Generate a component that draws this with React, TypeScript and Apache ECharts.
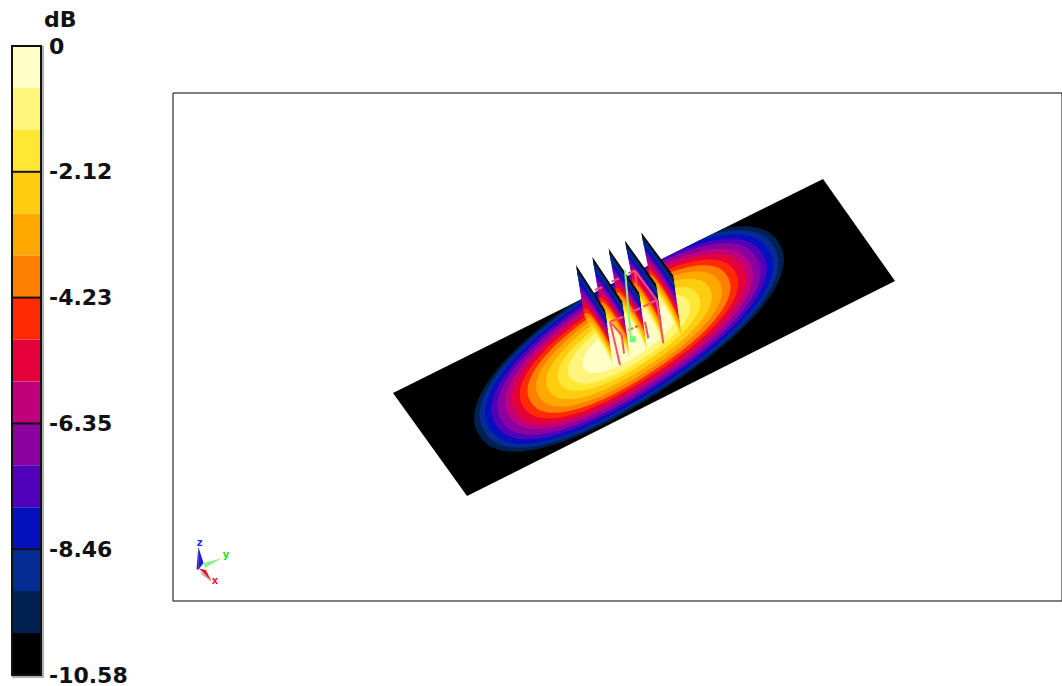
import React, { useEffect, useRef } from "react";
import * as echarts from "echarts";

const W = 1062;
const H = 686;

// Colour scale (top to bottom) and the values at the band edges
const bandColors = ["#FFFFC8", "#FFF57D", "#FFE833", "#FFCC10", "#FFA800", "#FF7F00", "#FF2A00", "#E6003A", "#C0007A", "#8A00A0", "#5000B8", "#0410BE", "#042C94", "#00204F", "#000000"];
const bandEdges = [0, -0.705, -1.41, -2.116, -2.821, -3.527, -4.232, -4.937, -5.643, -6.348, -7.053, -7.759, -8.464, -9.169, -9.875, -10.58];
const scaleTicks = [-2.116, -4.232, -6.348, -8.464];
const scaleMin = -10.58;
const scaleStep = 2.116;

// Scene points, in page pixels
const plateCorners = [[393, 393], [823, 179], [895, 281], [467, 496]];
const beamCentre = [629, 339];
const beamAxes = [178, 61];
const beamAxisDirs = [[0.84, -0.543], [0.543, 0.84]];
const beamRoundness = 2.25;
const finRise = 0.95;
const finBaseDim = 0.8;
// relative radius of each contour, from the outermost (dark) to the innermost (pale)
const ringRadii = [1, 0.965, 0.93, 0.89, 0.85, 0.8, 0.755, 0.705, 0.655, 0.6, 0.535, 0.46, 0.395, 0.3];
const ringBands = [13, 12, 11, 10, 9, 8, 7, 6, 5, 4, 3, 2, 1, 0];

const finApex = [576, 265];
const finUpper = [605, 310];
const finFoot = [613, 367];
const finHeel = [584, 315];
const finApexStep = [16.3, -8.2];
const finUpperStep = [17, -8.7];
const finFootStep = [17.2, -7.3];
const finHeelStep = [16.8, -8];
const finOrder = [4, 3, 2, 1, 0];

const wireSegments = [
  [[595, 290], [602.3, 287.3]],
  [[611.7, 281.7], [619, 278.3]],
  [[628.3, 273.3], [635, 270.7]],
  [[635, 270.7], [656.7, 300]],
  [[635, 270.7], [636.7, 285]],
  [[610, 321.7], [623.3, 316.7]],
  [[631.7, 311.7], [640, 308.3]],
  [[643.3, 306.7], [656.7, 300]],
  [[656.7, 300], [663.3, 343.3]],
  [[610, 321.7], [620, 365]],
  [[611.7, 323.3], [621.7, 335]],
  [[621.7, 335], [624, 353.3]],
  [[628.3, 330], [633, 328]],
  [[635, 327], [638.3, 326]],
  [[645, 321.7], [648.3, 338.3]],
];
const wireHighlight = [[608.6, 323], [617.6, 365]];
const feedLine = [[625, 270], [630.7, 336.7]];
const feedPoint = [632.7, 339.3];

const triadShapes = [
  { color: "#3A3A3A", pts: [[198.3, 546.7], [198.3, 570], [196.5, 569]] },
  { color: "#1A1AE6", pts: [[198.3, 546.7], [203.5, 563], [198.3, 570]] },
  { color: "#8CF08C", pts: [[221.7, 558.3], [203.5, 563], [205, 568]] },
  { color: "#6A3A3A", pts: [[198.3, 570], [211.7, 581.7], [203, 575]] },
  { color: "#E02030", pts: [[199, 568.5], [206, 570], [211.7, 581.7]] },
];
const triadLabels = [
  { text: "z", color: "#2030F0", at: [199.7, 542.5] },
  { text: "y", color: "#20E020", at: [226, 554] },
  { text: "x", color: "#F02020", at: [215, 580.5] },
];

// plate coordinates (-1..1 on each side) <-> page pixels
function plateToPixel(u: number, v: number) {
  const [c0, c1, , c3] = plateCorners;
  const a = (u + 1) / 2;
  const b = (v + 1) / 2;
  return [c0[0] + a * (c1[0] - c0[0]) + b * (c3[0] - c0[0]), c0[1] + a * (c1[1] - c0[1]) + b * (c3[1] - c0[1])];
}
function pixelToPlate(x: number, y: number) {
  const [c0, c1, , c3] = plateCorners;
  const ax = c1[0] - c0[0], ay = c1[1] - c0[1], bx = c3[0] - c0[0], by = c3[1] - c0[1];
  const det = ax * by - ay * bx;
  const dx = x - c0[0], dy = y - c0[1];
  return [((dx * by - dy * bx) / det) * 2 - 1, ((ax * dy - ay * dx) / det) * 2 - 1];
}
const clampUnit = (n: number) => Math.max(-1, Math.min(1, n));

function platePoints(radius: number) {
  const pts: number[][] = [];
  const n = 180;
  const [d0, d1] = beamAxisDirs;
  const e = 2 / beamRoundness;
  for (let i = 0; i < n; i++) {
    const t = (i / n) * Math.PI * 2;
    const c = Math.cos(t), s = Math.sin(t);
    const a = beamAxes[0] * radius * Math.sign(c) * Math.pow(Math.abs(c), e);
    const b = beamAxes[1] * radius * Math.sign(s) * Math.pow(Math.abs(s), e);
    const [u, v] = pixelToPlate(beamCentre[0] + a * d0[0] + b * d1[0], beamCentre[1] + a * d0[1] + b * d1[1]);
    pts.push(plateToPixel(clampUnit(u), clampUnit(v)));
  }
  return pts;
}

function beamLevel(x: number, y: number) {
  const [d0, d1] = beamAxisDirs;
  const dx = x - beamCentre[0], dy = y - beamCentre[1];
  const a = (dx * d0[0] + dy * d0[1]) / beamAxes[0];
  const b = (dx * d1[0] + dy * d1[1]) / beamAxes[1];
  return Math.pow(Math.pow(Math.abs(a), beamRoundness) + Math.pow(Math.abs(b), beamRoundness), 2 / beamRoundness);
}

function finPoint(fin: number, w: number, h: number) {
  const hx = finHeel[0] + finHeelStep[0] * fin, hy = finHeel[1] + finHeelStep[1] * fin;
  const fx = finFoot[0] + finFootStep[0] * fin, fy = finFoot[1] + finFootStep[1] * fin;
  const ax = finApex[0] + finApexStep[0] * fin, ay = finApex[1] + finApexStep[1] * fin;
  const ux = finUpper[0] + finUpperStep[0] * fin, uy = finUpper[1] + finUpperStep[1] * fin;
  const bx = hx + w * (fx - hx), by = hy + w * (fy - hy);
  const tx = ax + w * (ux - ax), ty = ay + w * (uy - ay);
  return [bx + h * (tx - bx), by + h * (ty - by)];
}

function finRingHeight(fin: number, w: number, k: number) {
  const base = finPoint(fin, w, 0);
  const level = finBaseDim * beamLevel(base[0], base[1]);
  const q = ringRadii[k];
  return Math.max(0, Math.min(1, (finRise * (q * q - level)) / (1 - level)));
}

function finBandPoints(fin: number, k: number) {
  const upper: number[][] = [];
  const lower: number[][] = [];
  const n = 60;
  for (let i = 0; i <= n; i++) {
    const w = i / n;
    const hi = finRingHeight(fin, w, k);
    const lo = k + 1 < ringRadii.length ? Math.max(0, finRingHeight(fin, w, k + 1) - 0.03) : 0;
    upper.push(finPoint(fin, w, hi));
    lower.push(finPoint(fin, w, lo));
  }
  return upper.concat(lower.reverse());
}

const finLayers: number[][] = [];
finOrder.forEach((fin) => {
  finLayers.push([fin, -1]);
  ringRadii.forEach((_, k) => finLayers.push([fin, k]));
});

export default function App() {
  const ref = useRef<HTMLDivElement>(null);
  useEffect(() => {
    const chart = echarts.init(ref.current!, undefined, { renderer: "svg" });
    const coords = (api: any, pts: number[][]) => pts.map((p) => api.coord(p));
    chart.setOption({
      animation: false,
      backgroundColor: "#ffffff",
      grid: [
        { left: 12, top: 46, width: 29, height: 630 },
        { left: 0, top: 0, width: W, height: H },
        { left: 173, top: 93, width: 1000, height: 508, show: true, borderColor: "#000000", borderWidth: 1, backgroundColor: "transparent" },
      ],
      xAxis: [
        { gridIndex: 0, type: "value", min: 0, max: 1, show: false },
        { gridIndex: 1, type: "value", min: 0, max: W, show: false },
        { gridIndex: 2, type: "value", min: 0, max: 1, show: false },
      ],
      yAxis: [
        {
          gridIndex: 0,
          type: "value",
          min: scaleMin,
          max: 0,
          interval: scaleStep,
          position: "right",
          name: "dB",
          nameLocation: "end",
          nameGap: 18,
          nameTextStyle: { fontFamily: "DejaVu Sans", fontWeight: "bold", fontSize: 22, lineHeight: 18, color: "#111111", align: "left", padding: [0, 0, 0, 32] },
          axisLine: { show: false },
          axisTick: { show: false },
          splitLine: { show: false },
          axisLabel: {
            show: true,
            margin: 8,
            fontFamily: "DejaVu Sans",
            fontWeight: "bold",
            fontSize: 22,
            lineHeight: 18,
            color: "#111111",
            showMinLabel: true,
            showMaxLabel: true,
            hideOverlap: false,
            formatter: (v: number) => (Math.abs(v) < 1e-6 ? "0" : v.toFixed(2)),
          },
          z: 5,
        },
        { gridIndex: 1, type: "value", min: 0, max: H, inverse: true, show: false },
        { gridIndex: 2, type: "value", min: 0, max: 1, show: false },
      ],
      series: [
        {
          type: "custom",
          name: "scale",
          xAxisIndex: 0,
          yAxisIndex: 0,
          silent: true,
          z: 2,
          data: bandColors.map((_, i) => [i, bandEdges[i]]),
          renderItem: (params: any, api: any) => {
            const i = params.dataIndex;
            const a = api.coord([0, bandEdges[i]]);
            const b = api.coord([1, bandEdges[i + 1]]);
            return { type: "rect", shape: { x: a[0], y: a[1], width: b[0] - a[0], height: b[1] - a[1] }, style: { fill: bandColors[i] } };
          },
        },
        {
          type: "custom",
          name: "scale frame",
          xAxisIndex: 0,
          yAxisIndex: 0,
          silent: true,
          z: 3,
          data: [[0, 0]],
          renderItem: (_: any, api: any) => {
            const a = api.coord([0, 0]);
            const b = api.coord([1, scaleMin]);
            const ticks = scaleTicks.map((t) => {
              const y = api.coord([0, t])[1];
              return { type: "line", shape: { x1: a[0], y1: y, x2: b[0], y2: y }, style: { stroke: "#111111", lineWidth: 2 } };
            });
            return {
              type: "group",
              children: [
                { type: "polyline", shape: { points: [[b[0] + 2, a[1]], [b[0] + 2, b[1] + 2], [a[0], b[1] + 2]] }, style: { stroke: "#B0B0B0", lineWidth: 2, fill: "none" } },
                ...ticks,
                { type: "rect", shape: { x: a[0], y: a[1], width: b[0] - a[0], height: b[1] - a[1] }, style: { fill: "none", stroke: "#111111", lineWidth: 2 } },
              ],
            };
          },
        },
        {
          type: "custom",
          name: "plate",
          xAxisIndex: 1,
          yAxisIndex: 1,
          silent: true,
          data: [[0, 0]],
          renderItem: (_: any, api: any) => ({ type: "polygon", shape: { points: coords(api, plateCorners) }, style: { fill: "#000000" } }),
        },
        {
          type: "custom",
          name: "contours",
          xAxisIndex: 1,
          yAxisIndex: 1,
          silent: true,
          data: ringRadii.map((r, i) => [i, r]),
          renderItem: (params: any, api: any) => ({
            type: "polygon",
            shape: { points: coords(api, platePoints(ringRadii[params.dataIndex])) },
            style: { fill: bandColors[ringBands[params.dataIndex]] },
          }),
        },
        {
          type: "custom",
          name: "fins",
          xAxisIndex: 1,
          yAxisIndex: 1,
          silent: true,
          data: finLayers,
          renderItem: (params: any, api: any) => {
            const [fin, k] = finLayers[params.dataIndex];
            if (k < 0) {
              const quad = [finPoint(fin, 0, 0.75), finPoint(fin, 0, 1), finPoint(fin, 1, 1), finPoint(fin, 1, 0.75)];
              return { type: "polygon", shape: { points: coords(api, quad) }, style: { fill: "#000000" } };
            }
            return { type: "polygon", shape: { points: coords(api, finBandPoints(fin, k)) }, style: { fill: bandColors[ringBands[k]] } };
          },
        },
        {
          type: "custom",
          name: "wire highlight",
          xAxisIndex: 1,
          yAxisIndex: 1,
          silent: true,
          data: [[0, 0]],
          renderItem: (_: any, api: any) => {
            const a = api.coord(wireHighlight[0]);
            const b = api.coord(wireHighlight[1]);
            return { type: "line", shape: { x1: a[0], y1: a[1], x2: b[0], y2: b[1] }, style: { stroke: "#FFF4E0", lineWidth: 1.5 } };
          },
        },
        {
          type: "custom",
          name: "wires",
          xAxisIndex: 1,
          yAxisIndex: 1,
          silent: true,
          data: wireSegments.map((_, i) => [i, 0]),
          renderItem: (params: any, api: any) => {
            const s = wireSegments[params.dataIndex];
            const a = api.coord(s[0]);
            const b = api.coord(s[1]);
            return { type: "line", shape: { x1: a[0], y1: a[1], x2: b[0], y2: b[1] }, style: { stroke: "#FF4D6A", lineWidth: 2 } };
          },
        },
        {
          type: "custom",
          name: "feed",
          xAxisIndex: 1,
          yAxisIndex: 1,
          silent: true,
          data: [[0, 0]],
          renderItem: (_: any, api: any) => {
            const a = api.coord(feedLine[0]);
            const b = api.coord(feedLine[1]);
            const p = api.coord(feedPoint);
            return {
              type: "group",
              children: [
                { type: "line", shape: { x1: a[0], y1: a[1], x2: b[0], y2: b[1] }, style: { stroke: "#84F584", lineWidth: 2 } },
                { type: "rect", shape: { x: p[0] - 3, y: p[1] - 3, width: 6, height: 6 }, style: { fill: "#66FF80" } },
              ],
            };
          },
        },
        {
          type: "custom",
          name: "triad",
          xAxisIndex: 1,
          yAxisIndex: 1,
          silent: true,
          data: triadShapes.map((_, i) => [i, 0]),
          renderItem: (params: any, api: any) => {
            const t = triadShapes[params.dataIndex];
            return { type: "polygon", shape: { points: coords(api, t.pts) }, style: { fill: t.color } };
          },
        },
        {
          type: "custom",
          name: "triad labels",
          xAxisIndex: 1,
          yAxisIndex: 1,
          silent: true,
          data: triadLabels.map((_, i) => [i, 0]),
          renderItem: (params: any, api: any) => {
            const t = triadLabels[params.dataIndex];
            const p = api.coord(t.at);
            return {
              type: "text",
              style: { text: t.text, x: p[0], y: p[1], fill: t.color, align: "center", verticalAlign: "middle", fontFamily: "DejaVu Sans", fontWeight: "bold", fontSize: 10 },
            };
          },
        },
      ],
    });
    return () => chart.dispose();
  }, []);
  return <div ref={ref} style={{ position: "absolute", left: 0, top: 0, width: W, height: H }} />;
}
